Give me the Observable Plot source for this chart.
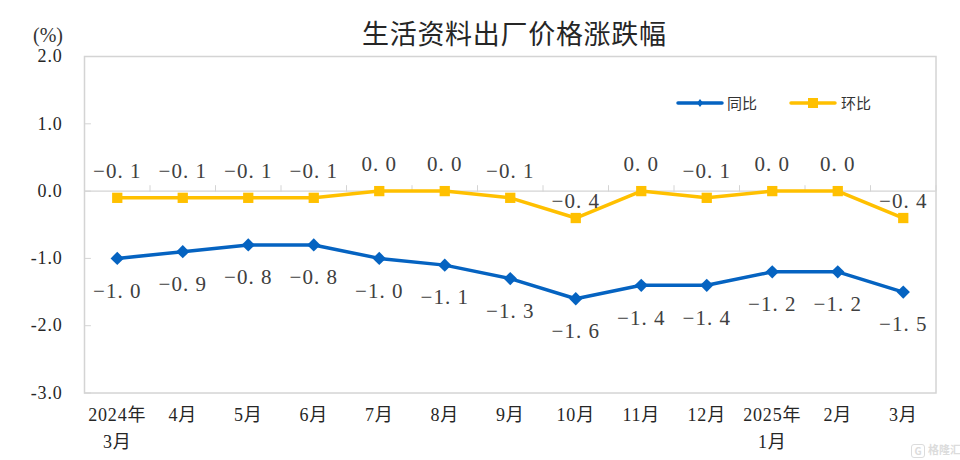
<!DOCTYPE html>
<html><head><meta charset="utf-8">
<script src="https://cdn.jsdelivr.net/npm/d3@7"></script>
<script src="https://cdn.jsdelivr.net/npm/@observablehq/plot@0.6"></script>
<style>
html,body{margin:0;padding:0;background:#fff}
#wrap{position:relative;width:960px;height:460px;overflow:hidden}
#head{height:44px;position:relative}
#title{position:absolute;left:362px;top:15px;font:400 27px/36px "Noto Sans CJK SC";letter-spacing:.7px;color:#262626;white-space:nowrap}
#unit{position:absolute;left:33px;top:23px;font:20px/24px "Liberation Serif";color:#333}
#legend{position:absolute;left:676px;top:92px;height:22px;font:15px/22px "Noto Sans CJK SC";color:#333}
#legend span{position:absolute;top:0;white-space:nowrap}
#legend svg{position:absolute;top:0}
#mark{position:absolute;left:911px;top:441px;font:bold 11px/16px "Noto Sans CJK SC";color:#dcdcdc;white-space:nowrap}
#mark b{display:inline-block;width:12px;height:12px;line-height:12px;border:1.5px solid #dcdcdc;border-radius:3px;text-align:center;margin-right:3px;font:bold 10px/12px "Noto Sans CJK SC";vertical-align:middle}
g[aria-label="text"]{letter-spacing:1px}
g[aria-label="y-axis tick label"],g[aria-label="x-axis tick label"]{letter-spacing:.8px}
svg{display:block}
</style></head><body>
<div id="wrap">
<div id="head"><div id="unit">(%)</div><div id="title">生活资料出厂价格涨跌幅</div></div>
<div id="chart"></div>
<div id="legend">
<svg width="48" height="22" style="left:0"><path d="M2 11H46" stroke="#0563c1" stroke-width="3.5" stroke-linecap="round"/><path d="M24 7l3 4-3 4-3-4z" fill="#0563c1"/></svg><span style="left:51px">同比</span>
<svg width="48" height="22" style="left:113px"><path d="M2 11H46" stroke="#ffc000" stroke-width="3.5" stroke-linecap="round"/><rect x="19" y="6" width="10" height="10" fill="#ffc000"/></svg><span style="left:165px">环比</span>
</div>
<div id="mark"><b>G</b>格隆汇</div>
</div>
<script>
const months = ["2024年\n3月","4月","5月","6月","7月","8月","9月","10月","11月","12月","2025年\n1月","2月","3月"];
const yoy = [-1.0,-0.9,-0.8,-0.8,-1.0,-1.1,-1.3,-1.6,-1.4,-1.4,-1.2,-1.2,-1.5];
const mom = [-0.1,-0.1,-0.1,-0.1,0.0,0.0,-0.1,-0.4,0.0,-0.1,0.0,0.0,-0.4];
const yTicks = [2,1,0,-1,-2,-3];

const idx = months.map((_, i) => i);
const edges = [...idx.map(i => i - 0.5), months.length - 0.5];
const fmtLabel = v => (v < 0 ? "−" : "") + Math.abs(v).toFixed(1).replace(".", ". ");
const serif = "Liberation Serif, Noto Sans CJK SC";
const grid = "#d4d4d4", ink = "#404040";
const tickShape = {draw(c, l){c.moveTo(0, 0); c.lineTo(0, -l);}};

const chart = Plot.plot({
  width: 960, height: 416,
  marginTop: 12, marginBottom: 67.5, marginLeft: 84, marginRight: 24.5,
  x: {type: "linear", domain: [-0.5, months.length - 0.5]},
  y: {domain: [-3, 2]},
  style: {background: "transparent"},
  marks: [
    Plot.frame({stroke: grid, strokeWidth: 1.5}),
    Plot.ruleY([0], {stroke: grid, strokeWidth: 1.2}),
    Plot.vector(edges, {x: d => d, y: () => 0, length: 5.5, rotate: 0, anchor: "start", shape: tickShape, stroke: grid, strokeWidth: 1}),
    Plot.vector(yTicks, {y: d => d, frameAnchor: "left", length: 6, rotate: 90, anchor: "start", shape: tickShape, stroke: grid, strokeWidth: 1}),
    Plot.axisY({ticks: yTicks, tickSize: 0, tickPadding: 22, tickFormat: d => d.toFixed(1), fontSize: 18, fontFamily: serif, color: "#262626"}),
    Plot.axisX({ticks: idx, tickSize: 0, tickPadding: 8.5, tickFormat: i => months[i], fontSize: 18, fontFamily: serif, lineHeight: 1.5, lineAnchor: "top", color: "#262626"}),
    Plot.line(idx, {x: d => d, y: i => mom[i], stroke: "#ffc000", strokeWidth: 3.5}),
    Plot.dot(idx, {x: d => d, y: i => mom[i], symbol: "square", r: 5.8, fill: "#ffc000", stroke: "none"}),
    Plot.line(idx, {x: d => d, y: i => yoy[i], stroke: "#0563c1", strokeWidth: 3.5}),
    Plot.dot(idx, {x: d => d, y: i => yoy[i], symbol: "diamond2", r: 6, fill: "#0563c1", stroke: "none"}),
    Plot.text(idx.filter(i => mom[i] > -0.3), {x: d => d, y: i => mom[i], text: i => fmtLabel(mom[i]), dy: -27, fontSize: 21, fontFamily: serif, fill: ink}),
    Plot.text(idx.filter(i => mom[i] <= -0.3), {x: d => d, y: i => mom[i], text: i => fmtLabel(mom[i]), dy: -17, fontSize: 21, fontFamily: serif, fill: ink}),
    Plot.text(idx, {x: d => d, y: i => yoy[i], text: i => fmtLabel(yoy[i]), dy: 32.5, fontSize: 21, fontFamily: serif, fill: ink})
  ]
});
document.getElementById("chart").appendChild(chart);
</script>
</body></html>
